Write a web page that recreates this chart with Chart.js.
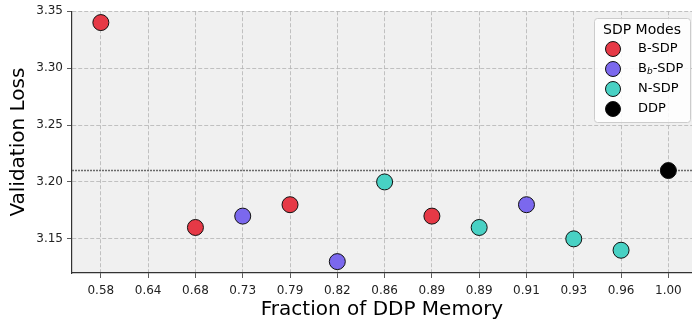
<!DOCTYPE html>
<html>
<head>
<meta charset="utf-8">
<script src="https://cdn.jsdelivr.net/npm/chart.js@4"></script>
<style>
  html, body { margin: 0; padding: 0; background: #fff; }
  #wrap { width: 692px; height: 322px; position: relative; }
</style>
</head>
<body>
<div id="wrap"><canvas id="chart"></canvas></div>
<script>
// x categories (fraction of DDP memory), one slot per run
const memLabels = ['0.58', '0.64', '0.68', '0.73', '0.79', '0.82', '0.86', '0.89', '0.89', '0.91', '0.93', '0.96', '1.00'];
const yTicks = [3.15, 3.20, 3.25, 3.30, 3.35];

// validation loss per slot, null where the mode has no run
const bSdp  = [3.34, null, 3.16, null, 3.18, null, null, 3.17, null, null, null, null, null];
const bbSdp = [null, null, null, 3.17, null, 3.13, null, null, null, 3.18, null, null, null];
const nSdp  = [null, null, null, null, null, null, 3.20, null, 3.16, null, 3.15, 3.14, null];
const ddp   = [null, null, null, null, null, null, null, null, null, null, null, null, 3.21];
const ddpBaseline = 3.21;

const X_MIN = -0.61, X_MAX = 12.5;

const toPoints = arr => arr.map((v, i) => v === null ? null : { x: i, y: v }).filter(p => p);

const modes = [
  { label: 'B-SDP', data: bSdp, color: '#e63946' },
  { label: 'B_b-SDP', data: bbSdp, color: '#7b68ee' },
  { label: 'N-SDP', data: nSdp, color: '#48d1c4' },
  { label: 'DDP', data: ddp, color: '#000000' }
];

const FONT = "'DejaVu Sans', sans-serif";

const datasets = modes.map(m => ({
  type: 'scatter',
  label: m.label,
  data: toPoints(m.data),
  backgroundColor: m.color,
  borderColor: '#111',
  borderWidth: 1,
  pointRadius: 8,
  pointHoverRadius: 8,
  order: 1
}));

// dotted DDP baseline across the plot, kept behind the markers
datasets.push({
  type: 'line',
  label: 'baseline',
  data: [{ x: X_MIN, y: ddpBaseline }, { x: X_MAX, y: ddpBaseline }],
  borderColor: '#6a6a6a',
  borderWidth: 1.5,
  borderDash: [2, 1],
  pointRadius: 0,
  fill: false,
  order: 5
});

const bgPlugin = {
  id: 'bg',
  beforeDraw(chart) {
    const { ctx, chartArea: a } = chart;
    ctx.save();
    ctx.fillStyle = '#f0f0f0';
    ctx.fillRect(a.left, a.top, a.right - a.left, a.bottom - a.top);
    ctx.restore();
  }
};

const legendPlugin = {
  id: 'modeLegend',
  afterDraw(chart) {
    const ctx = chart.ctx;
    const x0 = 594, y0 = 18, w = 96, h = 104;
    ctx.save();
    ctx.fillStyle = 'rgba(255,255,255,0.85)';
    ctx.strokeStyle = '#cccccc';
    ctx.lineWidth = 1;
    ctx.beginPath();
    ctx.roundRect(x0 + 0.5, y0 + 0.5, w, h, 3);
    ctx.fill();
    ctx.stroke();

    ctx.fillStyle = '#000';
    ctx.textBaseline = 'middle';
    ctx.textAlign = 'center';
    ctx.font = '14px ' + FONT;
    ctx.fillText('SDP Modes', 642, 30);

    const rows = [49, 69, 89, 109];
    modes.forEach((m, i) => {
      const y = rows[i];
      ctx.beginPath();
      ctx.arc(613, y, 7.5, 0, Math.PI * 2);
      ctx.fillStyle = m.color;
      ctx.fill();
      ctx.strokeStyle = '#111';
      ctx.lineWidth = 1;
      ctx.stroke();

      ctx.fillStyle = '#000';
      ctx.textAlign = 'left';
      ctx.font = '13px ' + FONT;
      if (m.label === 'B_b-SDP') {
        ctx.fillText('B', 638, y);
        const bw = ctx.measureText('B').width;
        ctx.font = 'italic 9px ' + FONT;
        ctx.fillText('b', 638 + bw, y + 3);
        const sw = ctx.measureText('b').width;
        ctx.font = '13px ' + FONT;
        ctx.fillText('-SDP', 638 + bw + sw, y);
      } else {
        ctx.fillText(m.label, 638, y);
      }
    });
    ctx.restore();
  }
};

const gridOpts = {
  color: '#b4b4b4',
  tickBorderDash: [],
  tickColor: '#333',
  tickLength: 5,
  lineWidth: 0.8
};
const borderOpts = { color: '#333', width: 1.2, dash: [4, 2] };

new Chart(document.getElementById('chart'), {
  data: { datasets },
  options: {
    responsive: true,
    maintainAspectRatio: false,
    animation: false,
    layout: { autoPadding: false, padding: { top: 11, right: 0, left: 0, bottom: 0 } },
    plugins: { legend: { display: false }, tooltip: { enabled: false } },
    scales: {
      x: {
        type: 'linear',
        min: X_MIN,
        max: X_MAX,
        afterBuildTicks: s => { s.ticks = memLabels.map((_, i) => ({ value: i })); },
        afterFit: s => { s.height = 49; s.paddingLeft = 0; s.paddingRight = 0; },
        ticks: {
          callback: v => memLabels[v],
          color: '#222',
          font: { family: FONT, size: 12 },
          padding: 6,
          maxRotation: 0,
          autoSkip: false
        },
        grid: gridOpts,
        border: borderOpts,
        title: {
          display: true,
          text: 'Fraction of DDP Memory',
          color: '#000',
          font: { family: FONT, size: 20 },
          padding: { top: 0, bottom: 0 }
        }
      },
      y: {
        type: 'linear',
        min: 3.12,
        max: 3.35,
        afterBuildTicks: s => { s.ticks = yTicks.map(v => ({ value: v })); },
        afterFit: s => { s.width = 72; },
        ticks: {
          callback: v => v.toFixed(2),
          color: '#222',
          font: { family: FONT, size: 12 },
          padding: 4
        },
        grid: gridOpts,
        border: borderOpts,
        title: {
          display: true,
          text: 'Validation Loss',
          color: '#000',
          font: { family: FONT, size: 20 },
          padding: { top: 7, bottom: 0 }
        }
      }
    }
  },
  plugins: [bgPlugin, legendPlugin]
});
</script>
</body>
</html>
